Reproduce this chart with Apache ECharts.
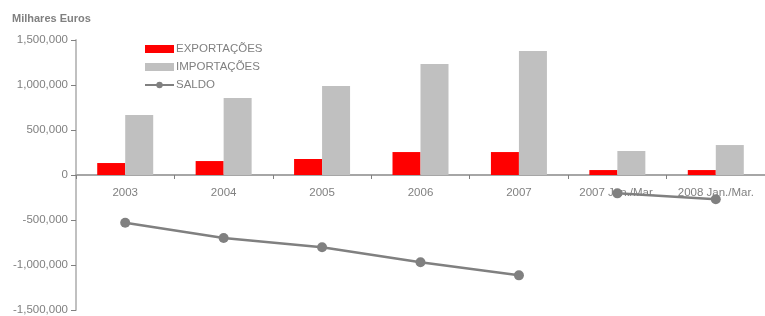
<!DOCTYPE html>
<html>
<head>
    <meta charset="utf-8">
    <style>
        body { margin: 0; background-color: #fff; }
        #main { width: 765px; height: 316px; }
    </style>
</head>
<body>
    <div id="main"></div>
    <script src="https://cdn.jsdelivr.net/npm/echarts@6/dist/echarts.min.js"></script>
    <script type="text/javascript">
        // valores em milhares de euros
        var categories = ['2003', '2004', '2005', '2006', '2007', '2007 Jan./Mar.', '2008 Jan./Mar.'];
        var exportacoes = [133000, 155000, 178000, 255000, 255000, 55000, 55000];
        var importacoes = [667000, 855000, 989000, 1233000, 1378000, 267000, 333000];
        var saldoAnual = [-530000, -700000, -803000, -970000, -1115000, null, null];
        var saldoTrim = [null, null, null, null, null, -204000, -270000];

        var grey = '#808080';
        var font = 'Liberation Sans, Arial, sans-serif';

        var myChart = echarts.init(document.getElementById('main'));

        var lineStyle = {
            type: 'line',
            name: 'SALDO',
            symbol: 'circle',
            symbolSize: 10,
            connectNulls: false,
            z: 5,
            lineStyle: { color: grey, width: 2.5 },
            itemStyle: { color: grey }
        };

        var option = {
            animation: false,
            textStyle: { fontFamily: font },
            title: {
                text: 'Milhares Euros',
                left: 7,
                top: 8,
                textStyle: { fontSize: 11, fontWeight: 'bold', color: grey, fontFamily: font }
            },
            legend: {
                orient: 'vertical',
                left: 144,
                top: 43,
                padding: 0,
                itemWidth: 29,
                itemHeight: 8,
                itemGap: 6,
                data: [
                    { name: 'EXPORTAÇÕES', icon: 'rect' },
                    { name: 'IMPORTAÇÕES', icon: 'rect' },
                    { name: 'SALDO' }
                ],
                textStyle: { color: grey, fontSize: 11.5, padding: [0, 0, 0, -3] }
            },
            grid: { left: 76, right: 0, top: 40, bottom: 6, outerBoundsMode: 'none' },
            xAxis: {
                type: 'category',
                data: categories,
                offset: -135,
                axisLine: { onZero: false, lineStyle: { color: '#a6a6a6', width: 2 } },
                axisTick: { show: true, interval: 0, length: 4, lineStyle: { color: grey } },
                axisLabel: { color: grey, fontSize: 11.5, margin: 12, interval: 0, hideOverlap: false },
                splitLine: { show: false }
            },
            yAxis: {
                type: 'value',
                min: -1500000,
                max: 1500000,
                interval: 500000,
                axisLine: { show: true, lineStyle: { color: '#c0c0c0', width: 2 } },
                axisTick: { show: true, length: 5, lineStyle: { color: grey } },
                axisLabel: {
                    color: grey,
                    fontSize: 11.5,
                    margin: 8,
                    formatter: function (v) { return v.toLocaleString('en-US'); }
                },
                splitLine: { show: false }
            },
            series: [
                {
                    name: 'EXPORTAÇÕES',
                    type: 'bar',
                    data: exportacoes,
                    barWidth: 28,
                    barGap: 0,
                    itemStyle: { color: '#ff0000' }
                },
                {
                    name: 'IMPORTAÇÕES',
                    type: 'bar',
                    data: importacoes,
                    barWidth: 28,
                    barGap: 0,
                    itemStyle: { color: '#c0c0c0' }
                },
                Object.assign({ data: saldoAnual }, lineStyle),
                Object.assign({ data: saldoTrim }, lineStyle)
            ]
        };

        myChart.setOption(option);
    </script>
</body>
</html>
